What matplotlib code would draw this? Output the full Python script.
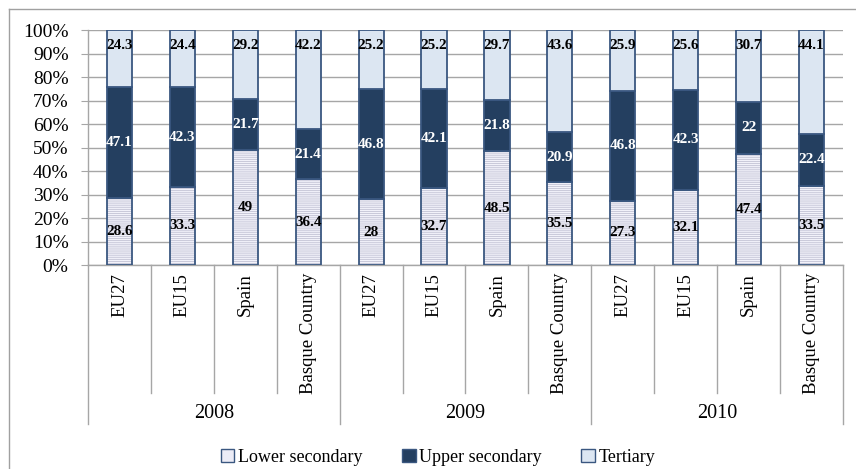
import matplotlib
matplotlib.use("Agg")
import matplotlib.pyplot as plt
from matplotlib.patches import Patch
from matplotlib.lines import Line2D
import numpy as np

plt.rcParams['font.family'] = ['Liberation Serif', 'DejaVu Serif']

years = ["2008", "2009", "2010"]
regions = ["EU27", "EU15", "Spain", "Basque Country"]
categories = regions * 3
lower_secondary = [28.6, 33.3, 49, 36.4, 28, 32.7, 48.5, 35.5, 27.3, 32.1, 47.4, 33.5]
upper_secondary = [47.1, 42.3, 21.7, 21.4, 46.8, 42.1, 21.8, 20.9, 46.8, 42.3, 22, 22.4]
tertiary = [24.3, 24.4, 29.2, 42.2, 25.2, 25.2, 29.7, 43.6, 25.9, 25.6, 30.7, 44.1]
labels_lower = ["28.6", "33.3", "49", "36.4", "28", "32.7", "48.5", "35.5", "27.3", "32.1", "47.4", "33.5"]
labels_upper = ["47.1", "42.3", "21.7", "21.4", "46.8", "42.1", "21.8", "20.9", "46.8", "42.3", "22", "22.4"]
labels_tert = ["24.3", "24.4", "29.2", "42.2", "25.2", "25.2", "29.7", "43.6", "25.9", "25.6", "30.7", "44.1"]
legend_labels = ["Lower secondary", "Upper secondary", "Tertiary"]

navy = '#243f60'
edge = '#3a5780'
light_blue = '#dce6f2'
lav = '#f2f2fa'
hatch_col = '#c2c2d4'
grid_col = '#a6a6a6'

fig = plt.figure(figsize=(8.56, 4.69), dpi=100)
W, H = 856, 469
x0, x1, ytop, ybot = 88, 843, 30, 265
ax = fig.add_axes([x0 / W, (H - ybot) / H, (x1 - x0) / W, (ybot - ytop) / H])

x = np.arange(len(categories))
lo = np.array(lower_secondary, dtype=float)
up = np.array(upper_secondary, dtype=float)
te = np.array(tertiary, dtype=float)
tot = lo + up + te
lo_p, up_p, te_p = lo / tot * 100, up / tot * 100, te / tot * 100

bw = 0.4
plt.rcParams['hatch.linewidth'] = 0.6
ax.bar(x, lo_p, bw, color=lav, hatch='--------', edgecolor=hatch_col, linewidth=0, zorder=2)
ax.bar(x, lo_p, bw, facecolor='none', edgecolor=edge, linewidth=1.3, zorder=3)
ax.bar(x, up_p, bw, bottom=lo_p, color=navy, edgecolor=edge, linewidth=1.3, zorder=3)
ax.bar(x, te_p, bw, bottom=lo_p + up_p, color=light_blue, edgecolor=edge, linewidth=1.3, zorder=3)

for i in range(len(x)):
    ax.text(x[i], lo_p[i] / 2, labels_lower[i], ha='center', va='center', fontsize=11,
            fontweight='bold', color='black', zorder=5)
    ax.text(x[i], lo_p[i] + up_p[i] / 2, labels_upper[i], ha='center', va='center', fontsize=11,
            fontweight='bold', color='white', zorder=5)
    ax.text(x[i], 93.5, labels_tert[i], ha='center', va='center', fontsize=11,
            fontweight='bold', color='black', zorder=5)

ax.set_xlim(-0.5, len(x) - 0.5)
ax.set_ylim(0, 100)
ax.set_yticks(np.arange(0, 101, 10))
ax.set_yticklabels([f"{v}%" for v in range(0, 101, 10)], fontsize=14)
ax.yaxis.grid(True, color=grid_col, linewidth=1, zorder=0)
ax.set_axisbelow(True)
ax.tick_params(axis='y', length=5, color=grid_col, pad=9)
ax.set_xticks([])
for s in ['top', 'right', 'bottom']:
    ax.spines[s].set_visible(False)
ax.spines['left'].set_color(grid_col)
ax.spines['left'].set_linewidth(1)
ax.axhline(0, color=grid_col, linewidth=1, zorder=1, clip_on=False)

axis_h = ybot - ytop
tr = ax.get_xaxis_transform()
for i, c in enumerate(categories):
    ax.text(x[i], -8 / axis_h, c, rotation=90, ha='center', va='top', fontsize=13.5,
            transform=tr, clip_on=False)
# separators
for b in np.arange(-0.5, len(x), 1.0):
    idx = int(round(b + 0.5))
    long = (idx % 4 == 0)
    ybottom = -159 / axis_h if long else -128 / axis_h
    ax.add_line(Line2D([b, b], [0, ybottom], transform=tr, color=grid_col, linewidth=1, clip_on=False))
for g, yr in enumerate(years):
    ax.text(g * 4 + 1.5, -148 / axis_h, yr, ha='center', va='center', fontsize=14.5,
            transform=tr, clip_on=False)

# figure frame (left and top)
fig.add_artist(Line2D([9 / W, 9 / W], [0, 1 - 9 / H], transform=fig.transFigure, color='#a0a0a0', linewidth=1))
fig.add_artist(Line2D([9 / W, 1], [1 - 9 / H, 1 - 9 / H], transform=fig.transFigure, color='#a0a0a0', linewidth=1))

handles = [Patch(facecolor='#ececf6', edgecolor=edge, linewidth=1),
           Patch(facecolor=navy, edgecolor=edge, linewidth=1),
           Patch(facecolor=light_blue, edgecolor=edge, linewidth=1)]
fig.legend(handles, legend_labels, loc='center', bbox_to_anchor=(438 / W, (H - 457) / H), ncol=3,
           frameon=False, fontsize=13, handlelength=0.75, handleheight=0.75, handletextpad=0.2,
           columnspacing=2.2)

fig.savefig('out.png', dpi=100)
